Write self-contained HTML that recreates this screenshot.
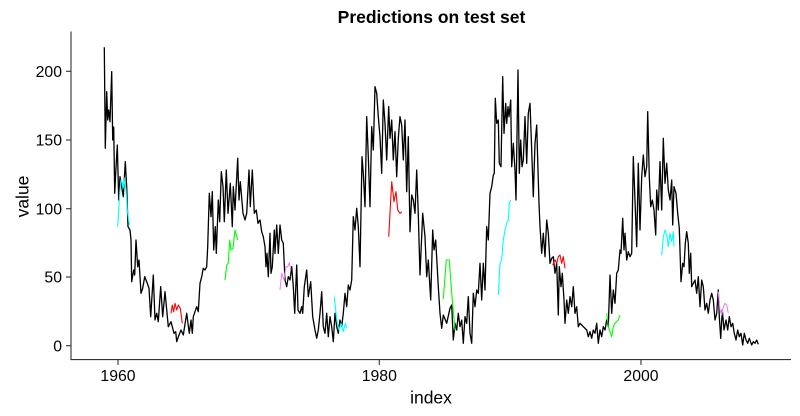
<!DOCTYPE html>
<html><head><meta charset="utf-8">
<style>
html,body{margin:0;padding:0;background:#fff;}
svg{display:block;}
text{font-family:"Liberation Sans",sans-serif;fill:#000;}
</style></head>
<body>
<svg width="800" height="416" viewBox="0 0 800 416" xmlns="http://www.w3.org/2000/svg">
<rect width="800" height="416" fill="#fff"/>
<text x="431.5" y="23" font-size="17.5" font-weight="bold" text-anchor="middle">Predictions on test set</text>
<!-- axes -->
<line x1="71" y1="31.5" x2="71" y2="360" stroke="#333" stroke-width="1.1"/>
<line x1="70.5" y1="359.6" x2="791" y2="359.6" stroke="#333" stroke-width="1.1"/>
<!-- y ticks -->
<g stroke="#333" stroke-width="1.1">
<line x1="66" y1="345.7" x2="71" y2="345.7"/>
<line x1="66" y1="277" x2="71" y2="277"/>
<line x1="66" y1="208.7" x2="71" y2="208.7"/>
<line x1="66" y1="140" x2="71" y2="140"/>
<line x1="66" y1="71.3" x2="71" y2="71.3"/>
<line x1="118" y1="360" x2="118" y2="365"/>
<line x1="379.3" y1="360" x2="379.3" y2="365"/>
<line x1="641" y1="360" x2="641" y2="365"/>
</g>
<g font-size="15.8" text-anchor="end">
<text x="62" y="351.3">0</text>
<text x="62" y="282.6">50</text>
<text x="62" y="214.3">100</text>
<text x="62" y="145.6">150</text>
<text x="62" y="76.9">200</text>
</g>
<g font-size="15.8" text-anchor="middle">
<text x="118" y="381">1960</text>
<text x="379.3" y="381">1980</text>
<text x="641" y="381">2000</text>
</g>
<text x="431" y="403.3" font-size="17.5" text-anchor="middle">index</text>
<text transform="translate(28.3,196.5) rotate(-90)" font-size="17.5" text-anchor="middle">value</text>

<!-- main series -->
<polyline fill="none" stroke="#000" stroke-width="1.3" stroke-linejoin="round" points="
104.3,47.3 105.3,148.3 106.7,91.7 107.7,120 108.7,110 110,121.7 111.7,71.7 112.7,140 113.7,127 114.7,193.3 115.7,173 117.3,145 118.7,200 120,176.7 121.7,187 123.3,196.7 125.3,161.7 126.7,187 128,226.7 130,230 131,240 131.7,281.7 133.7,270 134.7,275 136,240 137.7,266.7 139,260 141,293.3 142.7,288.3 144.7,276.7 147.3,283.3 149,288.3 150.7,316.7 153.3,275 155,320 156.7,313.3 158.3,321.7 160.7,286.7 162.7,316.7 165,291.7 168.3,326.7 171,321.7 174,333.3 175.7,331.7 176.7,341.7 179,335 181,330 183.3,335 186.7,313.3 189.3,333.3 191,320 192.3,333.3 193.3,316.7 196.7,306.7 198.3,311.7 200,283.3 201.7,276.7 203.3,268.3 205,270 206.7,266.7 207.7,246.7 209.3,193.3 211,216.7 212.3,191.7 213.7,250 215.3,226.7 216.3,253.3 218.3,200 219.7,221.7 221.3,171.7 223,186.7 224.3,221.7 226.3,170 228,213.3 230.3,183.3 232.3,226.7 233.3,186.7 235,210 237.7,158.3 239,200 240.3,181.7 243,213.3 245,220 246.7,213.3 249,170 250.3,206.7 252.3,170 254.3,213.3 256.3,210 258,223.3 260,220 261.7,231.7 263.3,236.7 265,246.7 266,266.7 267,253.3 268.3,276.7 270,233.3 271,273.3 272.3,266.7 274.3,230 275,253.3 276.7,225 278.3,253.3 280,225 281.7,240 283.3,243.3 285,280 286.7,286.7 288.3,276.7 290,280 291.7,266.7 293.3,286.7 294.7,313.3 296.7,265 298,310 300,313.3 301.7,306.7 302.7,313.3 304.3,286.7 306.7,270 308.3,296.7 310.7,281.7 312.7,316.7 315,330 316.7,338.3 318.3,330 320,313.3 321.7,291.7 323.3,326.7 325,333.3 326.7,313.3 328.3,336.7 330,316.7 331.7,326.7 333.3,341.7 335,313.3 336.7,326.7 338.3,333.3 340,320 341.7,326.7 343.3,313.3 345,293.3 346.7,306.7 348.3,285 350,290 351.7,280 353.3,216.7 355,230 356.7,208.3 358.3,226.7 360,266.7 361,211.7 362,156.7 363.3,173.3 365,206.7 366.7,116.7 368.3,156.7 370,206.7 371.7,126.7 373.3,150 375,86.7 376.7,93.3 378.3,116.7 380,136.7 381.7,173.3 383.3,100 385,123.3 386.7,160 388.7,106.7 390,138.3 391.7,120 393.3,160 395,131.7 396.7,176.7 398.3,138.3 400,116.7 401.7,125 403.3,160 405,120 406.7,191.7 408.3,136.7 410,231.7 411.7,195 413.3,200 415,213.3 416.7,170 418.3,215 420,275 422.7,213.3 425,236.7 426.7,276.7 428.3,260 430.7,300 432.7,230 434,250 435.7,240 438.3,286.7 440,313.3 441.7,328.3 443.3,315 446.7,323.3 450,308.3 451.7,305 453.3,340 455,323.3 456.7,330 458.3,313.3 460,326.7 461.7,320 463.3,343.3 465,316.7 466.7,323.3 468.3,296.7 470,333.3 471.7,343.3 473.3,293.3 475,306.7 476.7,290 478.3,293.3 480,263.3 481.7,300 483.3,263.3 485,290 486.7,226.7 488.3,240 490,193.3 491.7,186.7 493.3,175 494.3,173.3 495.3,98.3 496.7,123.3 498.3,120 499.3,163.3 501,166.7 502.7,76.7 504,133.3 505.7,103.3 506.7,123.3 508,106.7 509,116.7 510.7,100 511.7,166.7 513.3,143.3 515,170 516,200 518,70 519.3,173.3 520.7,140 522,166.7 523.3,160 525,116.7 526.7,163.3 528.3,113.3 530,103.3 531.7,150 533.3,196.7 535,143.3 536.7,125 537.7,160 539,203.3 540,226.7 541.7,253.3 543.3,233.3 545,256.7 546.7,220 548.3,233.3 550,263.3 551.7,258.3 553.3,256.7 555,273.3 556.7,263.3 558.3,315 559.3,266.7 561,286.7 562.3,273.3 564,300 565,323.3 566.7,300 568.3,313.3 570,296.7 571.7,306.7 573.3,286.7 575,313.3 576.7,306.7 578.3,326.7 580,323.3 581.7,325 583.3,326.7 586.7,330 588.3,336.7 590,331.7 591.7,338.3 593.3,330 595,333.3 596.7,323.3 598.3,343.3 600,330 601.7,336.7 603.3,326.7 605,330 606.7,320 608.3,326.7 610,275 611.7,313.3 613.3,290 615,303.3 616.7,273.3 618.3,270 620,250 621,253.3 622.7,218.3 624,250 625,233.3 626.7,260 628.3,251.7 630,256.7 631.7,253.3 633.3,156.7 635,200 636.7,246.7 638.3,163.3 640,230 641.7,176.7 643.3,155 645,176.7 646.7,166.7 647.7,111.7 649.3,176.7 650.7,206.7 652.3,200 654,210 655.7,235 656.7,190 658.3,210 660,161.7 661.7,210 663.3,138.3 665,183.3 666.7,163.3 668.3,190 670,200 671.7,180 672.7,225 674,186.7 676,193.3 677.7,213.3 679.3,228.3 681,281.7 682.7,263.3 684,266.7 685.3,243.3 686.7,231.7 688.3,243.3 689.3,273.3 690.7,253.3 691.7,286.7 693.3,283.3 695,280 696.7,293.3 698.3,276.7 700,306.7 701.7,280 703.3,286.7 705,310 706.7,303.3 708.3,313.3 710,300 711.7,293.3 713.3,300 715,320 716.7,313.3 718.3,290 719.3,316.7 720.7,338.3 722.3,310 724,330 726,320 727.7,330 729.3,316.7 731,326.7 732.7,323.3 734.3,333.3 736,340 737.7,330 739.3,336.7 741,333.3 742.7,345 744.3,333.3 746,340 747.7,343.3 749.3,338.3 751.7,345 753.3,341.7 755,343.3 756.7,340 758.3,344.3"/>

<!-- predictions -->
<g fill="none" stroke-width="1.1" stroke-linejoin="round">
<polyline stroke="#00FFFF" points="117.7,226.7 119,205 120,190 121,180 122.3,183 123.3,188 124.7,178 126,190 127.3,210 129.3,225"/>
<polyline stroke="#FF0000" points="171,313.3 172.3,305 173.7,311.7 175,303.3 176.7,310 178.3,305 180.3,308.3 182.3,323.3"/>
<polyline stroke="#00FF00" points="225,280 226.7,265 228.3,263.3 229.7,240 231,250 233,248.3 235,230 237.7,240"/>
<polyline stroke="#EE82EE" points="280,290 281.7,273.3 284,280 286,266.7 287.7,266.7 289.3,262.7 290.7,270"/>
<polyline stroke="#00FFFF" points="334.3,296.7 336.7,320 339,330 341,323.3 343.3,331.7 345.3,323.3 346.7,328.3"/>
<polyline stroke="#FF0000" points="388.7,236.7 391.7,181.7 394,201.7 396,191.7 397.7,210 400,213.3 401.7,211.7"/>
<polyline stroke="#00FF00" points="443.3,299 446.3,260 449.3,260 451.7,293.3 455,330"/>
<polyline stroke="#00FFFF" points="498.3,295 500,263.3 501.7,260 503.3,240 505,230 506.7,223.3 508.3,220 509.3,203.3 510.7,200"/>
<polyline stroke="#FF0000" points="552.7,265 555,260 556.7,263.3 558.3,256.7 560,255 561.7,263.3 563.3,256.7 565,268.3"/>
<polyline stroke="#00FF00" points="606.7,313.3 608.3,326.7 611.7,336.7 613.3,326.7 615,323.3 618.3,320 620,315"/>
<polyline stroke="#00FFFF" points="661.7,255 663.3,236.7 665,230 666.7,235 668.3,246.7 670,233.3 671.7,241.7 673.3,231.7 674,246.7"/>
<polyline stroke="#EE82EE" points="718.3,291.7 720,310 721.7,315 723.3,306.7 725,303.3 726.7,305 728.3,313.3"/>
</g>
</svg>
</body></html>
